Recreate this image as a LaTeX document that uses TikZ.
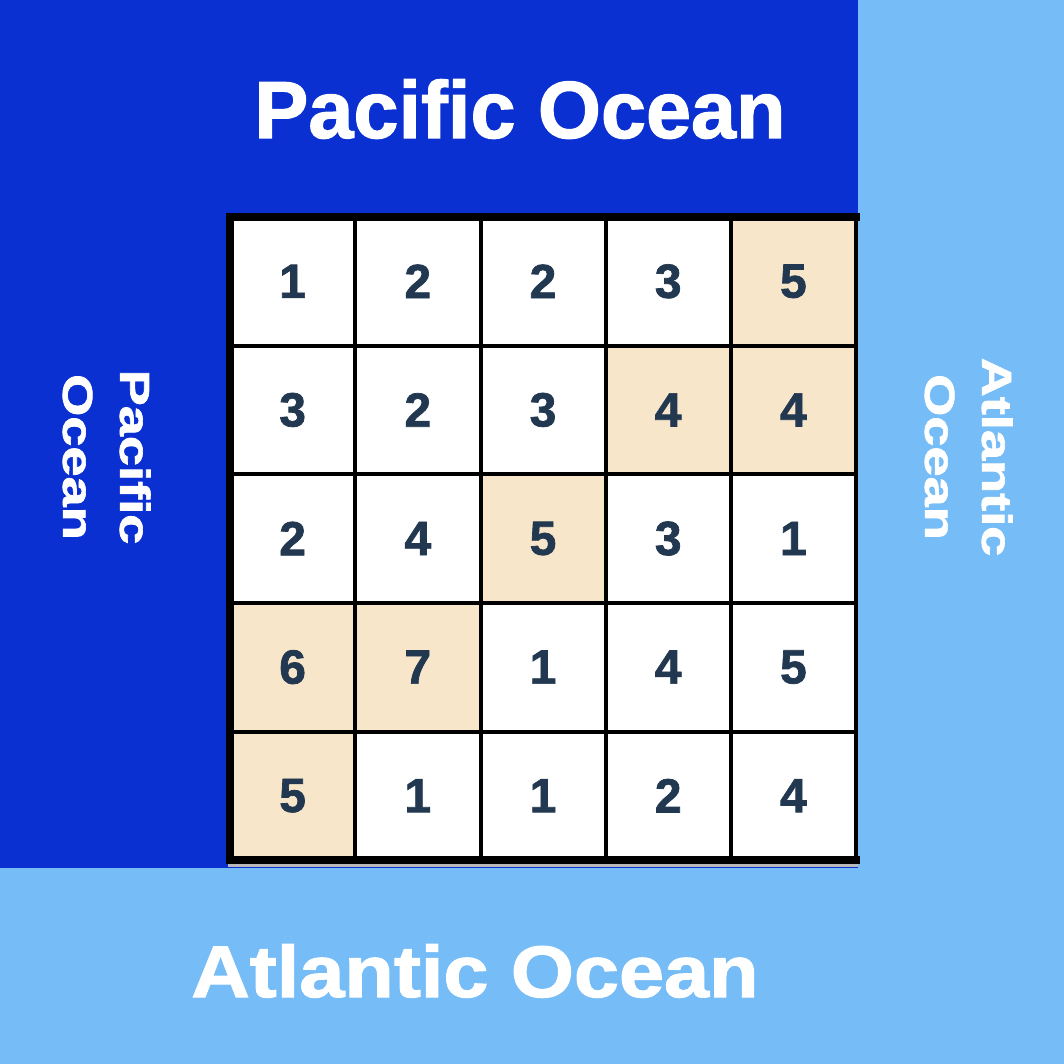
\documentclass[tikz,border=0pt]{standalone}
\usepackage{fontspec}
\setmainfont{Liberation Sans}[BoldFeatures={FakeBold=1.5}]
\definecolor{pacific}{HTML}{0A30D2}
\definecolor{atlantic}{HTML}{76BCF6}
\definecolor{tancol}{HTML}{F8E6CA}
\definecolor{numcol}{HTML}{213850}
\begin{document}
\begin{tikzpicture}[x=1pt,y=-1pt,
  cell/.style={draw=none, minimum width=125.2pt, minimum height=128.6pt, inner sep=0pt,
    font=\fontsize{48}{48}\selectfont\bfseries, text=numcol, fill=white},
  tan/.style={fill=tancol},
  gridline/.style={draw=black, line width=4pt},
  border/.style={draw=black, line width=8pt, line join=miter, line cap=rect},
  ocean/.style={text=white, inner sep=0pt}]
\useasboundingbox (0,0) rectangle (1064,1064);
% ocean areas
\fill[pacific] (0,0) rectangle (858,868);
\fill[atlantic] (858,0) rectangle (1064,1064);
\fill[atlantic] (0,868) rectangle (858,1064);
% cells
\node[cell] (c1-1) at (292.6,281.3) {1};
\node[cell] (c1-2) at (417.8,281.3) {2};
\node[cell] (c1-3) at (543.0,281.3) {2};
\node[cell] (c1-4) at (668.2,281.3) {3};
\node[cell,tan] (c1-5) at (793.4,281.3) {5};
\node[cell] (c2-1) at (292.6,409.9) {3};
\node[cell] (c2-2) at (417.8,409.9) {2};
\node[cell] (c2-3) at (543.0,409.9) {3};
\node[cell,tan] (c2-4) at (668.2,409.9) {4};
\node[cell,tan] (c2-5) at (793.4,409.9) {4};
\node[cell] (c3-1) at (292.6,538.5) {2};
\node[cell] (c3-2) at (417.8,538.5) {4};
\node[cell,tan] (c3-3) at (543.0,538.5) {5};
\node[cell] (c3-4) at (668.2,538.5) {3};
\node[cell] (c3-5) at (793.4,538.5) {1};
\node[cell,tan] (c4-1) at (292.6,667.1) {6};
\node[cell,tan] (c4-2) at (417.8,667.1) {7};
\node[cell] (c4-3) at (543.0,667.1) {1};
\node[cell] (c4-4) at (668.2,667.1) {4};
\node[cell] (c4-5) at (793.4,667.1) {5};
\node[cell,tan] (c5-1) at (292.6,795.7) {5};
\node[cell] (c5-2) at (417.8,795.7) {1};
\node[cell] (c5-3) at (543.0,795.7) {1};
\node[cell] (c5-4) at (668.2,795.7) {2};
\node[cell] (c5-5) at (793.4,795.7) {4};
% inner grid lines
\foreach \c in {1,2,3,4} {
  \draw[gridline] (c1-\c.north east) -- (c5-\c.south east);
}
\foreach \r in {1,2,3,4} {
  \draw[gridline] (c\r-1.south west) -- (c\r-5.south east);
}
% outer border
\draw[gray!55, line width=3pt] (228,865.5) -- (858,865.5);
\draw[border] (c1-5.north east) -- (c1-1.north west) -- (c5-1.south west) -- (c5-5.south east);
\draw[draw=black, line width=4.5pt, line cap=rect] (c1-5.north east) -- (c5-5.south east);
% labels
\node[ocean, anchor=base, font=\fontsize{81}{81}\selectfont\bfseries] (ptop) at (520,138) {Pacific Ocean};
\node[ocean, anchor=base, font=\fontsize{73}{73}\selectfont\bfseries] (abot) at (475,997) {\scalebox{1.11}[1]{Atlantic Ocean}};
\node[ocean, rotate=-90, font=\fontsize{42}{57}\selectfont\bfseries] (pleft) at (103,457)
  {\scalebox{1.29}[1]{\begin{tabular}{@{}c@{}}Pacific\\Ocean\end{tabular}}};
\node[ocean, rotate=-90, font=\fontsize{42}{57}\selectfont\bfseries] (aright) at (965,457)
  {\scalebox{1.29}[1]{\begin{tabular}{@{}c@{}}Atlantic\\Ocean\end{tabular}}};
\end{tikzpicture}
\end{document}
